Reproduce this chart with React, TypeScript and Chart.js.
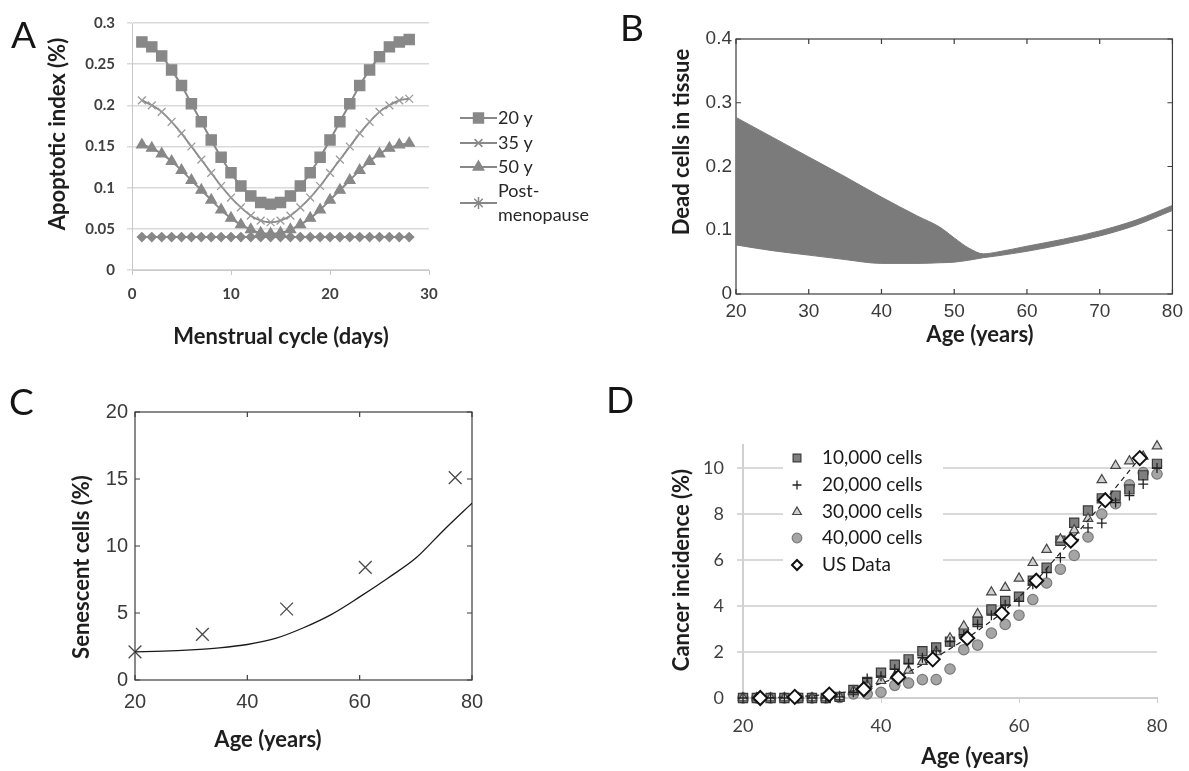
import React, { useEffect, useRef } from 'react';
import { Chart, registerables } from 'chart.js';

Chart.register(...registerables);

// ---------------- Panel A : apoptotic index over the menstrual cycle ----------------
const cycleDays = [1, 2, 3, 4, 5, 6, 7, 8, 9, 10, 11, 12, 13, 14, 15, 16, 17, 18, 19, 20, 21, 22, 23, 24, 25, 26, 27, 28];
const apoptotic20y = [0.277, 0.271, 0.26, 0.243, 0.224, 0.202, 0.18, 0.158, 0.137, 0.118, 0.102, 0.09, 0.082, 0.08, 0.082, 0.09, 0.102, 0.118, 0.137, 0.158, 0.18, 0.202, 0.224, 0.243, 0.259, 0.271, 0.277, 0.28];
const apoptotic35y = [0.206, 0.2, 0.192, 0.18, 0.166, 0.15, 0.134, 0.118, 0.102, 0.088, 0.076, 0.066, 0.06, 0.058, 0.06, 0.066, 0.076, 0.088, 0.102, 0.118, 0.134, 0.15, 0.166, 0.18, 0.192, 0.2, 0.206, 0.208];
const apoptotic50y = [0.152, 0.148, 0.141, 0.132, 0.121, 0.109, 0.097, 0.085, 0.073, 0.063, 0.055, 0.049, 0.045, 0.044, 0.045, 0.049, 0.055, 0.063, 0.073, 0.085, 0.097, 0.109, 0.121, 0.132, 0.141, 0.148, 0.152, 0.154];
const apoptoticPost = [0.04, 0.04, 0.04, 0.04, 0.04, 0.04, 0.04, 0.04, 0.04, 0.04, 0.04, 0.04, 0.04, 0.04, 0.04, 0.04, 0.04, 0.04, 0.04, 0.04, 0.04, 0.04, 0.04, 0.04, 0.04, 0.04, 0.04, 0.04];
const seriesLabelsA = ['20 y', '35 y', '50 y', 'Post-menopause'];

// ---------------- Panel B : dead cells in tissue ----------------
const ageB = [20, 25, 30, 35, 40, 45, 48, 50, 52, 54, 56, 60, 65, 70, 75, 80];
const deadUpper = [0.277, 0.246, 0.215, 0.184, 0.152, 0.122, 0.105, 0.088, 0.072, 0.063, 0.066, 0.075, 0.086, 0.099, 0.116, 0.139];
const deadLower = [0.077, 0.068, 0.061, 0.054, 0.048, 0.048, 0.049, 0.05, 0.053, 0.057, 0.06, 0.067, 0.078, 0.091, 0.108, 0.131];

// ---------------- Panel C : senescent cells ----------------
const ageModelC = [20, 25, 30, 35, 40, 45, 50, 55, 60, 65, 70, 75, 80];
const senescentModel = [2.1, 2.15, 2.25, 2.4, 2.65, 3.1, 3.9, 4.9, 6.2, 7.6, 9.1, 11.2, 13.2];
const ageObsC = [20, 32, 47, 61, 77];
const senescentObs = [2.1, 3.4, 5.3, 8.4, 15.1];

// ---------------- Panel D : cancer incidence ----------------
const ageSim = [20, 22, 24, 26, 28, 30, 32, 34, 36, 38, 40, 42, 44, 46, 48, 50, 52, 54, 56, 58, 60, 62, 64, 66, 68, 70, 72, 74, 76, 78, 80];
const cells10k = [0, 0, 0, 0, 0, 0, 0, 0.05, 0.35, 0.7, 1.1, 1.45, 1.68, 2.03, 2.2, 2.45, 2.85, 3.3, 3.85, 4.22, 4.4, 5.1, 5.66, 6.84, 7.62, 8.15, 8.68, 8.8, 9.07, 9.68, 10.18];
const cells20k = [0, 0, 0, 0, 0, 0, 0, 0.05, 0.25, 0.85, 0.95, 1.25, 1.5, 1.75, 2.05, 2.45, 2.75, 3.2, 3.6, 4.05, 4.2, 4.95, 5.45, 6.1, 6.9, 7.4, 7.6, 8.5, 8.8, 9.3, 10.0];
const cells30k = [0, 0, 0, 0, 0, 0, 0, 0.05, 0.3, 0.55, 0.75, 0.95, 1.2, 1.58, 2.0, 2.6, 3.12, 3.65, 4.6, 4.8, 5.2, 5.88, 6.45, 6.9, 7.3, 7.8, 9.48, 10.1, 10.3, 10.5, 10.95];
const cells40k = [0, 0, 0, 0, 0, 0, 0, 0.02, 0.18, 0.18, 0.25, 0.55, 0.65, 0.8, 0.8, 1.26, 2.1, 2.3, 2.82, 3.2, 3.6, 4.28, 5.0, 5.6, 6.2, 7.0, 8.0, 8.45, 9.27, 9.8, 9.74];
const ageUS = [22.5, 27.5, 32.5, 37.5, 42.5, 47.5, 52.5, 57.5, 62.5, 67.5, 72.5, 77.5];
const usData = [0, 0.05, 0.15, 0.38, 0.9, 1.68, 2.6, 3.68, 5.1, 6.84, 8.6, 10.43];
const seriesLabelsD = ['10,000 cells', '20,000 cells', '30,000 cells', '40,000 cells', 'US Data'];

// ---------------- helpers ----------------
const LATO = 'Lato, "Open Sans", sans-serif';
const HELV = '"Liberation Sans", Arial, sans-serif';

const pts = (xs: number[], ys: number[]) => xs.map((x, i) => ({ x, y: ys[i] }));

function drawMarker(ctx: CanvasRenderingContext2D, style: string, x: number, y: number, r: number, fill: string, stroke: string, lw: number) {
  ctx.save();
  ctx.beginPath();
  ctx.lineWidth = lw;
  ctx.strokeStyle = stroke;
  ctx.fillStyle = fill;
  const d = r * Math.SQRT1_2;
  let fillable = true;
  switch (style) {
    case 'rect':
      ctx.rect(x - d, y - d, 2 * d, 2 * d);
      break;
    case 'rectRot':
      ctx.moveTo(x, y - r); ctx.lineTo(x + r, y); ctx.lineTo(x, y + r); ctx.lineTo(x - r, y); ctx.closePath();
      break;
    case 'triangle':
      ctx.moveTo(x, y - r);
      ctx.lineTo(x + r * 0.866, y + r * 0.5);
      ctx.lineTo(x - r * 0.866, y + r * 0.5);
      ctx.closePath();
      break;
    case 'circle':
      ctx.arc(x, y, r, 0, Math.PI * 2);
      break;
    case 'cross':
      fillable = false;
      ctx.moveTo(x, y - r); ctx.lineTo(x, y + r); ctx.moveTo(x - r, y); ctx.lineTo(x + r, y);
      break;
    case 'crossRot':
      fillable = false;
      ctx.moveTo(x - d, y - d); ctx.lineTo(x + d, y + d); ctx.moveTo(x + d, y - d); ctx.lineTo(x - d, y + d);
      break;
    case 'star':
      fillable = false;
      ctx.moveTo(x, y - r); ctx.lineTo(x, y + r); ctx.moveTo(x - r, y); ctx.lineTo(x + r, y);
      ctx.moveTo(x - d, y - d); ctx.lineTo(x + d, y + d); ctx.moveTo(x + d, y - d); ctx.lineTo(x - d, y + d);
      break;
  }
  if (fillable) ctx.fill();
  ctx.stroke();
  ctx.restore();
}

type TitleSpec = { text: string; x: number; y: number; rotate?: boolean };
function axisTitles(specs: TitleSpec[], font: string, color: string) {
  return {
    id: 'axisTitles',
    afterDraw(chart: any) {
      const ctx: CanvasRenderingContext2D = chart.ctx;
      ctx.save();
      ctx.font = font;
      ctx.fillStyle = color;
      ctx.textAlign = 'center';
      ctx.textBaseline = 'middle';
      for (const s of specs) {
        ctx.save();
        ctx.translate(s.x, s.y);
        if (s.rotate) ctx.rotate(-Math.PI / 2);
        ctx.fillText(s.text, 0, 0);
        ctx.restore();
      }
      ctx.restore();
    },
  };
}

// MATLAB-like frame with inward tick marks
const matlabFrame = {
  id: 'matlabFrame',
  beforeDatasetsDraw(chart: any) {
    const { ctx, chartArea } = chart;
    const { left, right, top, bottom } = chartArea;
    const xs = chart.scales.x;
    const ys = chart.scales.y;
    ctx.save();
    ctx.strokeStyle = '#3c3c3c';
    ctx.lineWidth = 1.2;
    ctx.strokeRect(left, top, right - left, bottom - top);
    ctx.beginPath();
    const L = 5;
    xs.ticks.forEach((t: any) => {
      const px = xs.getPixelForValue(t.value);
      ctx.moveTo(px, bottom); ctx.lineTo(px, bottom - L);
      ctx.moveTo(px, top); ctx.lineTo(px, top + L);
    });
    ys.ticks.forEach((t: any) => {
      const py = ys.getPixelForValue(t.value);
      ctx.moveTo(left, py); ctx.lineTo(left + L, py);
      ctx.moveTo(right, py); ctx.lineTo(right - L, py);
    });
    ctx.stroke();
    ctx.restore();
  },
};

type Box = { W: number; H: number; l: number; t: number; r: number; b: number };
function boxLayout(box: Box) {
  return {
    layout: { padding: { left: 0, top: box.t, right: box.W - box.r, bottom: 0 } },
    yFit: (s: any) => { s.width = box.l; },
    xFit: (s: any) => { s.height = box.H - box.b; },
  };
}

// ---------------- chart configs ----------------
const GRAY_A = '#888888';

function configA(box: Box): any {
  const lay = boxLayout(box);
  const legendA = {
    id: 'legendA',
    afterDraw(chart: any) {
      const ctx: CanvasRenderingContext2D = chart.ctx;
      const styles = ['rect', 'crossRot', 'triangle', 'star'];
      const radii = [7, 5.5, 6, 6];
      const rowY = [118, 143, 167, 203];
      ctx.save();
      ctx.font = `18px ${LATO}`;
      ctx.fillStyle = '#262626';
      ctx.textBaseline = 'middle';
      ctx.textAlign = 'left';
      seriesLabelsA.forEach((label, i) => {
        const y = rowY[i];
        ctx.strokeStyle = GRAY_A;
        ctx.lineWidth = 2;
        ctx.beginPath();
        ctx.moveTo(460, y);
        ctx.lineTo(497, y);
        ctx.stroke();
        drawMarker(ctx, styles[i], 478.5, y, radii[i], GRAY_A, GRAY_A, 1.5);
        const parts = label.split(/(?<=-)/);
        if (parts.length === 1) {
          ctx.fillText(label, 498, y);
        } else {
          ctx.fillText(parts[0], 498, y - 12);
          ctx.fillText(parts[1], 498, y + 12);
        }
      });
      ctx.restore();
    },
  };
  const mk = (label: string, data: number[], style: string, r: number, lw: number, pc = GRAY_A) => ({
    label,
    data: pts(cycleDays, data),
    borderColor: GRAY_A,
    borderWidth: lw,
    pointStyle: style,
    pointRadius: r,
    pointBackgroundColor: pc,
    pointBorderColor: pc,
    pointBorderWidth: 1.3,
    tension: 0.3,
    fill: false,
    clip: false,
  });
  return {
    type: 'line',
    data: {
      datasets: [
        mk(seriesLabelsA[0], apoptotic20y, 'rect', 7.2, 2),
        mk(seriesLabelsA[1], apoptotic35y, 'crossRot', 5.5, 1.8, '#9a9a9a'),
        mk(seriesLabelsA[2], apoptotic50y, 'triangle', 6, 2),
        mk(seriesLabelsA[3], apoptoticPost, 'rectRot', 4.5, 2),
      ],
    },
    options: {
      animation: false,
      responsive: false,
      devicePixelRatio: 1,
      events: [],
      layout: lay.layout,
      plugins: { legend: { display: false }, tooltip: { enabled: false } },
      scales: {
        x: {
          type: 'linear',
          min: 0,
          max: 30,
          afterFit: lay.xFit,
          ticks: { stepSize: 10, color: '#404040', font: { family: LATO, size: 15, weight: 'bold' }, padding: 10 },
          grid: { drawOnChartArea: false, drawTicks: true, tickLength: 5, color: '#c8c8c8' },
          border: { color: '#c8c8c8', width: 1 },
        },
        y: {
          min: 0,
          max: 0.3,
          afterFit: lay.yFit,
          ticks: {
            stepSize: 0.05,
            color: '#404040',
            font: { family: LATO, size: 15, weight: 'bold' },
            padding: 12,
            callback: (v: number) => String(Math.round(v * 100) / 100),
          },
          grid: { color: '#d9d9d9', lineWidth: 1.5, drawTicks: true, tickLength: 5 },
          border: { color: '#c8c8c8', width: 1 },
        },
      },
    },
    plugins: [
      legendA,
      axisTitles(
        [
          { text: 'Apoptotic index (%)', x: 58, y: 134, rotate: true },
          { text: 'Menstrual cycle (days)', x: 281, y: 337 },
        ],
        `bold 22px ${LATO}`,
        '#1e1e1e'
      ),
    ],
  };
}

function configB(box: Box): any {
  const lay = boxLayout(box);
  const band = '#7b7b7b';
  return {
    type: 'line',
    data: {
      datasets: [
        { label: 'lower', data: pts(ageB, deadLower), borderColor: band, borderWidth: 1, pointRadius: 0, fill: false, cubicInterpolationMode: 'monotone' },
        { label: 'upper', data: pts(ageB, deadUpper), borderColor: band, borderWidth: 1, pointRadius: 0, fill: '-1', backgroundColor: band, cubicInterpolationMode: 'monotone' },
      ],
    },
    options: {
      animation: false,
      responsive: false,
      devicePixelRatio: 1,
      events: [],
      layout: lay.layout,
      plugins: { legend: { display: false }, tooltip: { enabled: false } },
      scales: {
        x: {
          type: 'linear',
          min: 20,
          max: 80,
          afterFit: lay.xFit,
          ticks: { stepSize: 10, color: '#3a3a3a', font: { family: HELV, size: 19 }, padding: 6 },
          grid: { display: false, drawTicks: false },
          border: { display: false },
        },
        y: {
          min: 0,
          max: 0.4,
          afterFit: lay.yFit,
          ticks: {
            stepSize: 0.1,
            color: '#3a3a3a',
            font: { family: HELV, size: 19 },
            padding: 4,
            callback: (v: number) => String(Math.round(v * 10) / 10),
          },
          grid: { display: false, drawTicks: false },
          border: { display: false },
        },
      },
    },
    plugins: [
      matlabFrame,
      axisTitles(
        [
          { text: 'Dead cells in tissue', x: 82, y: 142, rotate: true },
          { text: 'Age (years)', x: 380, y: 335 },
        ],
        `bold 22px ${LATO}`,
        '#1e1e1e'
      ),
    ],
  };
}

function configC(box: Box): any {
  const lay = boxLayout(box);
  return {
    type: 'scatter',
    data: {
      datasets: [
        { label: 'Model', data: pts(ageModelC, senescentModel), showLine: true, borderColor: '#1a1a1a', borderWidth: 1.3, pointRadius: 0, cubicInterpolationMode: 'monotone' },
        { label: 'Data', data: pts(ageObsC, senescentObs), pointStyle: 'crossRot', pointRadius: 9, pointBorderColor: '#4a4a4a', pointBorderWidth: 1.3, pointBackgroundColor: '#4a4a4a', clip: false },
      ],
    },
    options: {
      animation: false,
      responsive: false,
      devicePixelRatio: 1,
      events: [],
      layout: lay.layout,
      plugins: { legend: { display: false }, tooltip: { enabled: false } },
      scales: {
        x: {
          type: 'linear',
          min: 20,
          max: 80,
          afterFit: lay.xFit,
          ticks: { stepSize: 20, color: '#3a3a3a', font: { family: HELV, size: 20 }, padding: 10 },
          grid: { display: false, drawTicks: false },
          border: { display: false },
        },
        y: {
          min: 0,
          max: 20,
          afterFit: lay.yFit,
          ticks: { stepSize: 5, color: '#3a3a3a', font: { family: HELV, size: 20 }, padding: 7 },
          grid: { display: false, drawTicks: false },
          border: { display: false },
        },
      },
    },
    plugins: [
      matlabFrame,
      axisTitles(
        [
          { text: 'Senescent cells (%)', x: 82, y: 197, rotate: true },
          { text: 'Age (years)', x: 268, y: 370 },
        ],
        `bold 22px ${LATO}`,
        '#1e1e1e'
      ),
    ],
  };
}

const markD = [
  { style: 'rect', r: 6.5, fill: '#7f7f7f', stroke: '#3a3a3a', lw: 1.2, lr: 5.5 },
  { style: 'cross', r: 5, fill: '#222222', stroke: '#222222', lw: 1.3, lr: 4.5 },
  { style: 'triangle', r: 5.5, fill: '#d0d0d0', stroke: '#454545', lw: 1.2, lr: 5 },
  { style: 'circle', r: 5.2, fill: '#a5a5a5', stroke: '#7a7a7a', lw: 1.2, lr: 4.8 },
  { style: 'rectRot', r: 7, fill: '#ffffff', stroke: '#111111', lw: 2, lr: 5 },
];

function configD(box: Box): any {
  const lay = boxLayout(box);
  const legendD = {
    id: 'legendD',
    afterDraw(chart: any) {
      const ctx: CanvasRenderingContext2D = chart.ctx;
      ctx.save();
      ctx.fillStyle = '#ffffff';
      ctx.fillRect(183, 76, 160, 137);
      ctx.font = `19px ${LATO}`;
      ctx.fillStyle = '#1a1a1a';
      ctx.textBaseline = 'middle';
      ctx.textAlign = 'left';
      const rowY = [88, 115, 142, 168, 195];
      seriesLabelsD.forEach((label, i) => {
        const m = markD[i];
        drawMarker(ctx, m.style, 197, rowY[i], m.lr, m.fill, m.stroke, m.lw);
        ctx.fillText(label, 222, rowY[i]);
      });
      ctx.restore();
    },
  };
  const sim = (label: string, data: number[], i: number, order: number) => ({
    label,
    data: pts(ageSim, data),
    pointStyle: markD[i].style,
    pointRadius: markD[i].r,
    pointBackgroundColor: markD[i].fill,
    pointBorderColor: markD[i].stroke,
    pointBorderWidth: markD[i].lw,
    order,
    clip: false,
  });
  return {
    type: 'scatter',
    data: {
      datasets: [
        sim(seriesLabelsD[0], cells10k, 0, 3),
        sim(seriesLabelsD[1], cells20k, 1, 1),
        sim(seriesLabelsD[2], cells30k, 2, 2),
        sim(seriesLabelsD[3], cells40k, 3, 4),
        {
          label: seriesLabelsD[4],
          data: pts(ageUS, usData),
          showLine: true,
          borderColor: '#222222',
          borderWidth: 1.2,
          borderDash: [5, 4],
          pointStyle: markD[4].style,
          pointRadius: markD[4].r,
          pointBackgroundColor: markD[4].fill,
          pointBorderColor: markD[4].stroke,
          pointBorderWidth: markD[4].lw,
          order: 0,
          clip: false,
        },
      ],
    },
    options: {
      animation: false,
      responsive: false,
      devicePixelRatio: 1,
      events: [],
      layout: lay.layout,
      plugins: { legend: { display: false }, tooltip: { enabled: false } },
      scales: {
        x: {
          type: 'linear',
          min: 20,
          max: 80,
          afterFit: lay.xFit,
          ticks: { stepSize: 20, color: '#404040', font: { family: LATO, size: 18 }, padding: 12 },
          grid: { drawOnChartArea: false, drawTicks: true, tickLength: 5, color: '#d0d0d0' },
          border: { color: '#d0d0d0', width: 2 },
        },
        y: {
          min: 0,
          max: 11,
          afterFit: lay.yFit,
          ticks: { stepSize: 2, includeBounds: false, color: '#404040', font: { family: LATO, size: 18 }, padding: 13 },
          grid: { color: '#d9d9d9', lineWidth: 2, drawTicks: true, tickLength: 6 },
          border: { color: '#d0d0d0', width: 2 },
        },
      },
    },
    plugins: [
      legendD,
      axisTitles(
        [
          { text: 'Cancer incidence (%)', x: 82, y: 200, rotate: true },
          { text: 'Age (years)', x: 375, y: 387 },
        ],
        `bold 22px ${LATO}`,
        '#1e1e1e'
      ),
    ],
  };
}

// ---------------- components ----------------
function Panel({ left, top, box, make }: { left: number; top: number; box: Box; make: (b: Box) => any }) {
  const ref = useRef<HTMLCanvasElement | null>(null);
  useEffect(() => {
    if (!ref.current) return;
    const chart = new Chart(ref.current, make(box));
    return () => chart.destroy();
  }, []);
  return (
    <canvas
      ref={ref}
      width={box.W}
      height={box.H}
      style={{ position: 'absolute', left, top, width: box.W, height: box.H }}
    />
  );
}

const letterStyle = (left: number, top: number): React.CSSProperties => ({
  position: 'absolute',
  left,
  top,
  fontFamily: LATO,
  fontSize: 37,
  lineHeight: '37px',
  color: '#151515',
});

export default function App() {
  const boxA: Box = { W: 600, H: 365, l: 132, t: 23, r: 429, b: 270 };
  const boxB: Box = { W: 589, H: 365, l: 136, t: 39, r: 576, b: 294 };
  const boxC: Box = { W: 600, H: 401, l: 135, t: 42, r: 472, b: 310 };
  const boxD: Box = { W: 589, H: 401, l: 143, t: 75, r: 557, b: 328 };
  return (
    <div style={{ position: 'fixed', left: 0, top: 0, width: 1189, height: 771, background: '#ffffff', overflow: 'hidden' }}>
      <Panel left={0} top={0} box={boxA} make={configA} />
      <Panel left={600} top={0} box={boxB} make={configB} />
      <Panel left={0} top={370} box={boxC} make={configC} />
      <Panel left={600} top={370} box={boxD} make={configD} />
      <div style={letterStyle(11, 15)}>A</div>
      <div style={letterStyle(620, 8)}>B</div>
      <div style={letterStyle(9, 382)}>C</div>
      <div style={letterStyle(606, 380)}>D</div>
    </div>
  );
}
